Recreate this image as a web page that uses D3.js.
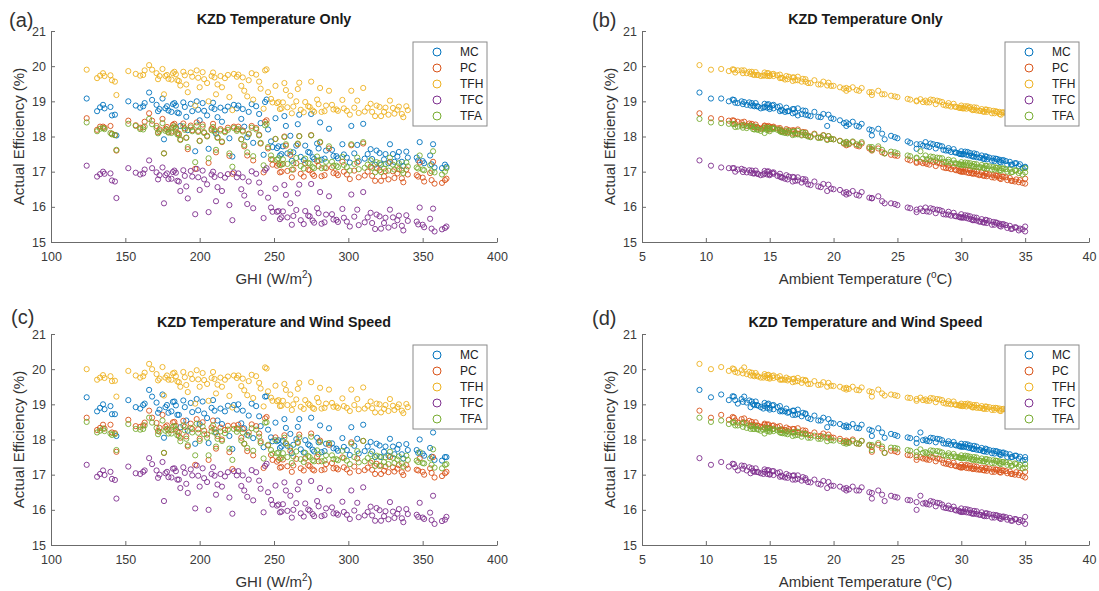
<!DOCTYPE html>
<html>
<head>
<meta charset="utf-8">
<script src="https://cdn.jsdelivr.net/npm/d3@7"></script>
<style>
  body { margin: 0; background: #fff; }
  svg { display: block; font-family: "Liberation Sans", Arial, sans-serif; }
</style>
</head>
<body>
<svg id="chart" width="1099" height="591"></svg>
<script>
// one entry per daily observation: GHI (W/m2) and ambient temperature (C)
var ghi = [124,131,133,136,140,141,143,144,152,157,160,163,166,171,173,176,178,181,183,185,
  187,190,192,195,198,200,203,206,208,210,212,215,217,220,223,225,228,230,233,236,
  238,241,244,246,249,251,253,255,257,259,261,263,266,268,271,273,275,277,280,282,
  285,287,290,293,296,299,302,304,307,310,313,316,319,322,325,328,331,334,337,340,
  346,347,348,351,355,357,358,363,365,366,
  135,162,168,172,175,177,179,182,184,186,189,191,194,258,199,202,205,209,211,214,
  219,267,226,229,232,235,240,281,245,248,252,254,256,197,262,265,222,270,274,276,
  279,243,284,289,292,297,301,306,311,315,318,321,324,327,330,333,336,339,350,356];
var temp = [10.4,15.8,15.0,15.3,14.6,17.2,17.8,23.0,11.8,13.5,14.5,12.5,9.5,13.2,15.0,24.0,14.0,16.2,13.6,17.0,
  19.5,15.6,23.0,16.5,12.8,20.5,17.8,26.5,14.8,16.8,19.0,21.5,16.0,25.0,15.3,17.2,20.0,22.0,18.5,26.0,
  15.8,20.8,13.0,22.8,27.5,19.8,28.5,30.2,18.2,31.0,24.5,29.5,21.2,32.0,27.0,30.5,19.2,31.8,28.0,33.0,
  29.0,23.5,30.8,32.5,27.8,31.5,21.0,29.8,33.5,22.2,30.0,32.8,28.8,34.0,31.2,26.5,33.8,29.2,34.5,32.2,
  31.4,33.2,27.2,34.2,30.6,26.8,35.0,34.8,33.6,35.0,
  14.8,13.8,12.2,16.4,11.2,14.3,17.6,12.9,15.2,16.8,13.4,18.8,14.6,21.8,15.9,13.9,18.0,12.3,23.8,16.3,
  14.1,19.6,13.7,16.9,24.8,14.9,17.5,21.0,12.1,25.8,29.0,31.6,27.3,30.0,32.4,28.3,30.9,33.3,29.6,31.2,
  27.6,30.4,32.7,28.6,31.9,30.1,33.1,28.1,31.7,29.4,33.9,30.7,32.0,34.3,29.9,31.0,33.0,30.3,32.6,34.6];

// actual efficiency (%), temperature-only model
var mcT = [19.08,18.72,18.83,18.80,18.84,18.60,18.62,18.03,19.00,18.88,18.82,18.95,19.25,18.90,18.78,17.92,18.86,18.70,18.95,18.68,
  18.30,18.84,18.18,18.72,19.00,18.46,18.73,17.65,18.82,18.78,18.55,18.42,18.74,17.95,18.90,18.80,18.50,18.28,18.70,17.82,
  18.86,18.38,18.98,18.20,17.70,18.52,17.72,17.50,18.58,17.52,18.02,17.55,18.35,17.42,17.74,17.56,18.64,17.36,17.66,17.34,
  17.60,18.22,17.45,17.38,17.78,17.40,18.30,17.52,17.30,18.36,17.50,17.36,17.60,17.20,17.50,17.78,17.28,17.56,17.16,17.40,
  17.40,17.32,17.84,17.24,17.46,17.78,17.12,17.10,17.20,17.14,
  18.90,18.86,19.04,18.72,19.08,18.80,18.74,18.92,18.88,18.66,18.97,18.56,18.93,18.30,18.76,18.95,18.60,18.96,18.08,18.82,
  18.85,18.62,18.88,18.78,17.98,18.92,18.64,18.40,19.05,17.86,17.67,17.46,17.72,17.58,17.31,17.74,17.43,17.33,17.54,17.41,
  17.80,17.48,17.37,17.62,17.44,17.49,17.26,17.76,17.37,17.64,17.20,17.53,17.35,17.24,17.50,17.43,17.28,17.57,17.30,17.21];
var pcT = [18.52,18.19,18.28,18.25,18.30,18.08,18.04,17.60,18.45,18.32,18.25,18.42,18.66,18.30,18.20,17.52,18.27,18.14,18.36,18.10,
  17.92,18.23,17.64,18.18,18.40,17.88,18.12,17.25,18.22,18.18,17.98,17.84,18.15,17.45,18.28,18.20,17.92,17.72,18.08,17.32,
  18.24,17.80,18.42,17.66,17.20,17.93,17.22,17.00,18.00,17.02,17.48,17.06,17.78,16.94,17.24,17.06,18.04,16.88,17.16,16.87,
  17.10,17.66,16.96,16.90,17.28,16.92,17.75,17.03,16.84,17.80,17.00,16.88,17.10,16.74,17.01,17.28,16.82,17.07,16.70,16.92,
  16.90,16.86,17.26,16.72,16.96,17.28,16.66,16.68,16.76,16.80,
  18.28,18.26,18.45,18.12,18.50,18.22,18.13,18.33,18.26,18.08,18.37,17.97,18.31,17.74,18.16,18.34,18.02,18.36,17.55,18.21,
  18.25,18.01,18.28,18.17,17.46,18.30,18.05,17.83,18.46,17.35,17.17,16.98,17.22,17.08,16.84,17.24,16.94,16.86,17.04,16.93,
  17.30,16.98,16.90,17.12,16.95,17.00,16.79,17.26,16.89,17.14,16.74,17.04,16.87,16.78,17.01,16.95,16.81,17.06,16.83,16.76];
var tfhT = [19.90,19.66,19.73,19.72,19.74,19.60,19.56,19.18,19.86,19.78,19.73,19.88,20.03,19.80,19.72,19.20,19.75,19.62,19.84,19.60,
  19.45,19.74,19.26,19.70,19.88,19.40,19.63,19.00,19.72,19.68,19.48,19.40,19.66,19.12,19.78,19.70,19.44,19.30,19.60,19.05,
  19.76,19.36,19.88,19.26,18.97,19.44,18.98,18.80,19.52,18.83,19.16,18.85,19.35,18.76,18.98,18.86,19.56,18.70,18.92,18.70,
  18.88,19.30,18.77,18.73,19.04,18.73,19.30,18.82,18.67,19.38,18.82,18.70,18.88,18.58,18.82,19.02,18.65,18.85,18.55,18.75,
  18.73,18.68,19.02,18.60,18.81,19.06,18.55,18.56,18.63,18.55,
  19.80,19.75,19.90,19.63,19.92,19.72,19.64,19.80,19.77,19.58,19.84,19.48,19.82,19.32,19.67,19.83,19.52,19.82,19.20,19.72,
  19.75,19.53,19.76,19.68,19.14,19.80,19.56,19.38,19.91,19.07,18.95,18.78,18.97,18.88,18.66,19.00,18.75,18.69,18.84,18.74,
  19.05,18.79,18.72,18.90,18.77,18.80,18.62,19.02,18.71,18.93,18.58,18.84,18.70,18.62,18.81,18.76,18.64,18.86,18.66,18.60];
var tfcT = [17.17,16.86,16.93,16.94,16.95,16.75,16.72,16.25,17.10,16.97,16.92,17.06,17.32,16.98,16.90,16.10,16.95,16.80,17.03,16.74,
  16.45,16.88,16.24,16.86,17.08,16.48,16.78,15.85,16.92,16.85,16.56,16.45,16.83,16.05,16.98,16.84,16.50,16.32,16.72,15.96,
  16.94,16.40,17.05,16.26,15.86,16.52,15.88,15.70,16.62,15.70,16.10,15.74,16.38,15.62,15.88,15.75,16.65,15.55,15.82,15.52,
  15.78,16.30,15.64,15.57,15.94,15.58,16.35,15.72,15.48,16.42,15.70,15.54,15.78,15.38,15.69,15.92,15.46,15.75,15.33,15.60,
  15.58,15.50,15.98,15.42,15.66,15.95,15.30,15.36,15.40,15.44,
  17.00,16.95,17.10,16.78,17.12,16.90,16.79,16.99,16.97,16.72,17.04,16.58,17.02,16.34,16.84,17.03,16.64,17.00,16.16,16.90,
  16.93,16.63,16.95,16.84,16.08,17.01,16.69,16.42,17.10,15.98,15.86,15.65,15.87,15.79,15.49,15.91,15.62,15.51,15.73,15.61,
  15.96,15.68,15.56,15.79,15.63,15.69,15.44,15.92,15.56,15.83,15.37,15.73,15.54,15.41,15.70,15.62,15.46,15.76,15.49,15.38];
var tfaT = [18.40,18.15,18.22,18.21,18.10,18.06,18.04,17.62,18.36,18.30,18.21,18.28,18.50,18.24,18.15,17.52,18.20,18.10,18.29,18.06,
  17.90,18.19,17.70,18.15,18.31,17.87,18.10,17.38,18.18,18.14,17.96,17.86,18.12,17.52,18.24,18.16,17.92,17.76,18.06,17.44,
  18.20,17.82,18.32,17.70,17.35,17.93,17.38,17.20,17.98,17.22,17.57,17.24,17.80,17.16,17.37,17.25,18.03,17.10,17.32,17.10,
  17.28,17.72,17.17,17.13,17.42,17.13,17.78,17.22,17.07,17.84,17.20,17.11,17.27,16.99,17.21,17.40,17.06,17.24,16.96,17.15,
  17.12,17.09,17.46,17.04,17.18,17.58,16.98,16.92,17.00,17.10,
  18.24,18.20,18.35,18.09,18.38,18.16,18.11,18.25,18.22,18.04,18.29,17.96,18.26,17.78,18.13,18.28,18.00,18.27,17.62,18.17,
  18.19,18.01,18.21,18.14,17.55,18.25,18.03,17.85,18.36,17.46,17.34,17.19,17.35,17.27,17.06,17.39,17.14,17.09,17.23,17.13,
  17.43,17.18,17.12,17.28,17.17,17.19,17.03,17.40,17.11,17.32,16.98,17.24,17.09,17.03,17.20,17.15,17.04,17.26,17.06,17.01];

// actual efficiency (%), temperature and wind speed model
var mcW = [19.20,18.80,18.90,18.86,18.95,18.72,18.72,18.10,19.12,18.92,18.88,19.02,19.41,19.05,18.85,18.05,18.98,18.80,19.08,18.70,
  18.35,18.92,18.25,18.78,19.15,18.44,18.74,17.90,18.90,18.82,18.54,18.44,18.80,18.10,18.98,18.85,18.46,18.32,18.68,18.04,
  18.95,18.38,19.22,18.28,17.95,18.48,17.98,17.80,18.58,17.82,18.16,17.85,18.36,17.72,17.98,17.86,18.62,17.66,17.92,17.64,
  17.88,18.32,17.75,17.68,18.04,17.70,18.35,17.82,17.60,18.42,17.80,17.66,17.88,17.50,17.80,18.02,17.58,17.85,17.46,17.70,
  17.70,17.62,18.00,17.54,17.76,18.20,17.42,17.40,17.50,17.50,
  19.00,18.98,19.22,18.76,19.28,18.92,18.76,19.07,18.97,18.70,19.11,18.54,19.04,18.33,18.83,19.08,18.61,19.12,18.20,18.88,
  18.96,18.58,19.00,18.82,18.13,19.02,18.66,18.40,19.23,18.06,17.95,17.76,17.96,17.88,17.61,18.01,17.73,17.63,17.83,17.71,
  18.05,17.78,17.67,17.89,17.74,17.79,17.56,18.02,17.67,17.93,17.50,17.83,17.65,17.54,17.80,17.73,17.58,17.87,17.60,17.51];
var pcW = [18.62,18.27,18.33,18.31,18.42,18.20,18.18,17.65,18.56,18.38,18.36,18.48,18.82,18.47,18.33,17.62,18.40,18.27,18.50,18.22,
  18.05,18.36,17.80,18.30,18.58,18.02,18.25,17.42,18.34,18.30,18.10,18.00,18.27,17.64,18.40,18.32,18.05,17.88,18.20,17.55,
  18.38,17.95,18.60,17.83,17.42,18.06,17.42,17.22,18.12,17.24,17.68,17.26,17.93,17.18,17.46,17.27,18.17,17.12,17.38,17.13,
  17.30,17.85,17.18,17.15,17.49,17.15,17.92,17.23,17.10,17.96,17.20,17.14,17.31,17.02,17.23,17.50,17.09,17.27,16.99,17.17,
  17.14,17.12,17.46,17.00,17.18,17.50,16.92,16.96,17.04,17.08,
  18.42,18.40,18.62,18.24,18.70,18.36,18.26,18.49,18.39,18.20,18.53,18.09,18.45,17.89,18.29,18.49,18.14,18.54,17.74,18.34,
  18.39,18.14,18.42,18.30,17.67,18.43,18.17,17.97,18.64,17.56,17.37,17.20,17.43,17.28,17.08,17.45,17.16,17.12,17.24,17.15,
  17.51,17.19,17.15,17.33,17.19,17.21,17.06,17.46,17.13,17.34,17.02,17.25,17.11,17.07,17.21,17.17,17.07,17.27,17.08,17.05];
var tfhW = [20.00,19.70,19.76,19.75,19.80,19.66,19.67,19.22,19.95,19.82,19.76,19.90,20.15,19.86,19.73,19.25,19.82,19.70,19.90,19.65,
  19.50,19.77,19.35,19.72,19.97,19.50,19.69,19.10,19.75,19.72,19.56,19.50,19.70,19.24,19.82,19.75,19.52,19.40,19.66,19.18,
  19.80,19.45,20.05,19.37,19.10,19.53,19.12,18.96,19.58,18.98,19.28,19.00,19.44,18.93,19.12,19.02,19.63,18.87,19.06,18.88,
  19.02,19.42,18.93,18.90,19.17,18.90,19.42,18.98,18.86,19.48,18.96,18.89,19.02,18.77,18.98,19.15,18.84,19.00,18.75,18.92,
  18.90,18.86,19.14,18.80,18.97,19.19,18.75,18.76,18.82,18.75,
  19.83,19.80,20.00,19.68,20.06,19.76,19.70,19.88,19.80,19.63,19.92,19.55,19.86,19.41,19.71,19.89,19.58,19.92,19.31,19.76,
  19.79,19.61,19.82,19.73,19.26,19.84,19.61,19.47,20.02,19.19,19.09,18.95,19.10,19.02,18.84,19.14,18.91,18.87,18.98,18.90,
  19.18,18.94,18.90,19.04,18.94,18.95,18.81,19.15,18.88,19.08,18.77,19.00,18.87,18.81,18.96,18.92,18.82,19.01,18.84,18.79];
var tfcW = [17.28,16.94,17.02,16.99,17.08,16.88,16.85,16.32,17.23,17.04,17.02,17.12,17.47,17.12,17.00,16.25,17.08,16.92,17.18,16.86,
  16.62,17.05,16.48,16.98,17.26,16.66,16.90,16.00,17.02,16.97,16.72,16.66,16.95,16.35,17.10,16.98,16.68,16.55,16.86,16.27,
  17.07,16.60,17.25,16.50,16.15,16.69,16.15,15.95,16.78,15.97,16.40,16.00,16.58,15.90,16.18,16.01,16.82,15.82,16.10,15.82,
  16.04,16.55,15.90,15.86,16.23,15.86,16.55,15.98,15.79,16.64,15.94,15.84,16.05,15.69,15.96,16.22,15.77,16.02,15.65,15.88,
  15.86,15.80,16.20,15.74,15.92,16.40,15.60,15.68,15.72,15.80,
  17.12,17.08,17.30,16.91,17.36,17.04,16.93,17.17,17.10,16.86,17.21,16.74,17.15,16.55,16.97,17.18,16.79,17.21,16.43,17.02,
  17.07,16.79,17.10,16.98,16.37,17.13,16.83,16.62,17.31,16.28,16.12,15.93,16.16,16.04,15.78,16.19,15.89,15.81,15.98,15.88,
  16.25,15.93,15.85,16.07,15.90,15.94,15.74,16.20,15.84,16.09,15.69,15.99,15.82,15.73,15.95,15.89,15.76,16.02,15.78,15.71];
var tfaW = [18.50,18.20,18.25,18.24,18.17,18.13,18.15,17.70,18.44,18.30,18.28,18.40,18.62,18.33,18.22,17.62,18.30,18.17,18.38,18.12,
  17.95,18.26,17.84,18.20,18.45,17.96,18.15,17.55,18.24,18.20,18.02,17.96,18.18,17.74,18.30,18.22,17.97,17.88,18.11,17.68,
  18.28,17.90,18.48,17.85,17.60,17.98,17.63,17.48,18.05,17.50,17.77,17.52,17.90,17.44,17.62,17.53,18.08,17.38,17.58,17.38,
  17.55,17.90,17.44,17.41,17.68,17.40,17.88,17.50,17.35,17.96,17.47,17.39,17.54,17.26,17.49,17.65,17.33,17.52,17.23,17.42,
  17.40,17.36,17.64,17.32,17.46,17.72,17.20,17.18,17.28,17.30,
  18.31,18.30,18.48,18.15,18.54,18.25,18.17,18.36,18.29,18.10,18.40,18.02,18.33,17.89,18.19,18.37,18.05,18.40,17.80,18.23,
  18.28,18.06,18.30,18.20,17.76,18.32,18.08,17.93,18.49,17.70,17.61,17.46,17.61,17.55,17.33,17.66,17.42,17.36,17.50,17.41,
  17.69,17.46,17.40,17.55,17.44,17.47,17.30,17.67,17.38,17.59,17.25,17.51,17.36,17.30,17.48,17.43,17.32,17.54,17.33,17.28];

var seriesNames = ["MC", "PC", "TFH", "TFC", "TFA"];
var seriesColors = ["#0072BD", "#D95319", "#EDB120", "#7E2F8E", "#77AC30"];
var effTicks = [15, 16, 17, 18, 19, 20, 21];
var ghiTicks = [100, 150, 200, 250, 300, 350, 400];
var tempTicks = [5, 10, 15, 20, 25, 30, 35, 40];

var svg = d3.select("#chart");

// the four panels, left to right, top to bottom
var panels = [
  {tag: "(a)", tagX: 9, tagY: 27, title: "KZD Temperature Only", xs: ghi, ys: [mcT, pcT, tfhT, tfcT, tfaT],
   xDomain: [100, 400], xTicks: ghiTicks, xLabel: "ghi", left: 51, right: 497, top: 31, bottom: 242},
  {tag: "(b)", tagX: 592, tagY: 27, title: "KZD Temperature Only", xs: temp, ys: [mcT, pcT, tfhT, tfcT, tfaT],
   xDomain: [5, 40], xTicks: tempTicks, xLabel: "temp", left: 642, right: 1089, top: 31, bottom: 242},
  {tag: "(c)", tagX: 11, tagY: 324, title: "KZD Temperature and Wind Speed", xs: ghi, ys: [mcW, pcW, tfhW, tfcW, tfaW],
   xDomain: [100, 400], xTicks: ghiTicks, xLabel: "ghi", left: 51, right: 497, top: 334, bottom: 545},
  {tag: "(d)", tagX: 592, tagY: 325, title: "KZD Temperature and Wind Speed", xs: temp, ys: [mcW, pcW, tfhW, tfcW, tfaW],
   xDomain: [5, 40], xTicks: tempTicks, xLabel: "temp", left: 642, right: 1089, top: 334, bottom: 545}
];

panels.forEach(function(p) {
  var x = d3.scaleLinear().domain(p.xDomain).range([p.left, p.right]);
  var y = d3.scaleLinear().domain([15, 21]).range([p.bottom, p.top]);
  var g = svg.append("g");

  // scatter, one group per series
  p.ys.forEach(function(vals, k) {
    g.append("g").selectAll("circle")
      .data(vals)
      .enter().append("circle")
        .attr("cx", function(d, i) { return x(p.xs[i]); })
        .attr("cy", function(d) { return y(d); })
        .attr("r", 2.6)
        .attr("fill", "none")
        .attr("stroke", seriesColors[k])
        .attr("stroke-width", 1)
        .attr("stroke-opacity", 0.9);
  });

  // axes, ticks pointing inward like matlab
  var xAxis = g.append("g")
    .attr("transform", "translate(0," + p.bottom + ")")
    .call(d3.axisBottom(x).tickValues(p.xTicks).tickFormat(d3.format("d")).tickSizeInner(-4).tickSizeOuter(0).tickPadding(10));
  var yAxis = g.append("g")
    .attr("transform", "translate(" + p.left + ",0)")
    .call(d3.axisLeft(y).tickValues(effTicks).tickFormat(d3.format("d")).tickSizeInner(-4).tickSizeOuter(0).tickPadding(5));
  [xAxis, yAxis].forEach(function(a) {
    a.select(".domain").attr("stroke", "#6b6b6b");
    a.selectAll(".tick line").attr("stroke", "#6b6b6b");
    a.selectAll(".tick text").attr("fill", "#3a3a3a").style("font-size", "12.5px").style("font-family", "Liberation Sans, Arial, sans-serif");
  });

  // titles and labels
  g.append("text")
    .attr("x", (p.left + p.right) / 2).attr("y", p.top - 7)
    .attr("text-anchor", "middle")
    .style("font-size", "14.3px").style("font-weight", "bold").attr("fill", "#1a1a1a")
    .text(p.title);

  g.append("text")
    .attr("x", p.tagX).attr("y", p.tagY)
    .style("font-size", "20px").attr("fill", "#333")
    .text(p.tag);

  g.append("text")
    .attr("transform", "translate(" + (p.left - 27) + "," + ((p.top + p.bottom) / 2) + ") rotate(-90)")
    .attr("text-anchor", "middle")
    .style("font-size", "15px").attr("fill", "#333")
    .text("Actual Efficiency (%)");

  var xl = g.append("text")
    .attr("x", (p.left + p.right) / 2).attr("y", p.bottom + 42)
    .attr("text-anchor", "middle")
    .style("font-size", "15px").attr("fill", "#333");
  if (p.xLabel == "ghi") {
    xl.append("tspan").text("GHI (W/m");
    xl.append("tspan").attr("dy", -6).style("font-size", "10px").text("2");
    xl.append("tspan").attr("dy", 6).text(")");
  } else {
    xl.append("tspan").text("Ambient Temperature (");
    xl.append("tspan").attr("dy", -6).style("font-size", "10px").text("o");
    xl.append("tspan").attr("dy", 6).text("C)");
  }

  // legend box, opaque like matlab so it hides points behind it
  var lg = g.append("g").attr("transform", "translate(" + (p.right - 84) + "," + (p.top + 11) + ")");
  lg.append("rect")
    .attr("width", 74).attr("height", 84)
    .attr("fill", "#fff").attr("stroke", "#8a8a8a").attr("stroke-width", 1);
  seriesNames.forEach(function(name, k) {
    lg.append("circle")
      .attr("cx", 24).attr("cy", 10 + 16 * k).attr("r", 4)
      .attr("fill", "none").attr("stroke", seriesColors[k]).attr("stroke-width", 1);
    lg.append("text")
      .attr("x", 47).attr("y", 10 + 16 * k)
      .attr("dy", "0.35em")
      .style("font-size", "12px").attr("fill", "#222")
      .text(name);
  });
});
</script>
</body>
</html>
